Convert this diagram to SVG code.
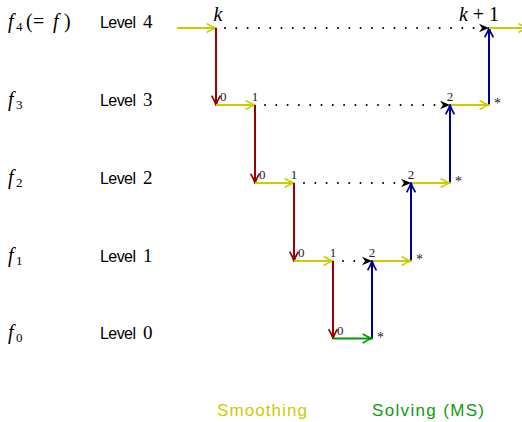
<svg xmlns="http://www.w3.org/2000/svg" width="522" height="422" viewBox="0 0 522 422">
<style>
.math{font-family:"Liberation Serif",serif;font-size:20px;fill:#000}
.it{font-style:italic}
.sub{font-size:13px;font-style:normal}
.lvl{font-family:"Liberation Sans",sans-serif;font-size:16px;fill:#000}
.dig{font-family:"Liberation Serif",serif;font-size:19px;fill:#000}
.idx{font-family:"Liberation Serif",serif;font-size:13px;fill:#222}
.ast{font-family:"Liberation Serif",serif;font-size:14px;fill:#222}
.sm{stroke:#cccc00;stroke-width:2;fill:none}
.re{stroke:#990000;stroke-width:2;fill:none}
.bl{stroke:#000099;stroke-width:2;fill:none}
.gr{stroke:#009900;stroke-width:2;fill:none}
.dt{stroke:#000;stroke-width:2;stroke-linecap:round;stroke-dasharray:0 11.3;fill:none}
.leg{font-family:"Liberation Sans",sans-serif;font-size:17px}
</style>
<defs>
<marker id="aY" viewBox="0 0 10 10" refX="9.5" refY="5" markerWidth="11" markerHeight="11" markerUnits="userSpaceOnUse" orient="auto"><path d="M1,1 Q6,4 9.5,5 Q6,6 1,9" stroke="#cccc00" stroke-width="1.6" fill="none"/></marker>
<marker id="aR" viewBox="0 0 10 10" refX="9.5" refY="5" markerWidth="11" markerHeight="11" markerUnits="userSpaceOnUse" orient="auto"><path d="M1,1 Q6,4 9.5,5 Q6,6 1,9" stroke="#990000" stroke-width="1.6" fill="none"/></marker>
<marker id="aB" viewBox="0 0 10 10" refX="9.5" refY="5" markerWidth="11" markerHeight="11" markerUnits="userSpaceOnUse" orient="auto"><path d="M1,1 Q6,4 9.5,5 Q6,6 1,9" stroke="#000099" stroke-width="1.6" fill="none"/></marker>
<marker id="aG" viewBox="0 0 10 10" refX="9.5" refY="5" markerWidth="11" markerHeight="11" markerUnits="userSpaceOnUse" orient="auto"><path d="M1,1 Q6,4 9.5,5 Q6,6 1,9" stroke="#009900" stroke-width="1.6" fill="none"/></marker>
<marker id="aK" viewBox="0 0 10 10" refX="10" refY="5" markerWidth="10" markerHeight="10" markerUnits="userSpaceOnUse" orient="auto"><path d="M0,0.8 L10,5 L0,9.2 L3,5 z" fill="#000"/></marker>
</defs>

<g id="labels-left">
<g id="f4"><text class="math" y="28"><tspan class="it" x="8">f</tspan><tspan class="sub" x="16" dy="3">4</tspan><tspan x="26" dy="-3">(</tspan><tspan x="33">=</tspan><tspan class="it" x="53">f</tspan><tspan x="64">)</tspan></text></g>
<g id="f3"><text class="math" y="106"><tspan class="it" x="8">f</tspan><tspan class="sub" x="16" dy="3">3</tspan></text></g>
<g id="f2"><text class="math" y="184"><tspan class="it" x="8">f</tspan><tspan class="sub" x="16" dy="3">2</tspan></text></g>
<g id="f1"><text class="math" y="262"><tspan class="it" x="8">f</tspan><tspan class="sub" x="16" dy="3">1</tspan></text></g>
<g id="f0"><text class="math" y="339"><tspan class="it" x="8">f</tspan><tspan class="sub" x="16" dy="3">0</tspan></text></g>
<g id="level4"><text class="lvl" x="100" y="28" textLength="36">Level</text><text class="dig" x="143" y="28">4</text></g>
<g id="level3"><text class="lvl" x="100" y="106" textLength="36">Level</text><text class="dig" x="143" y="106">3</text></g>
<g id="level2"><text class="lvl" x="100" y="184" textLength="36">Level</text><text class="dig" x="143" y="184">2</text></g>
<g id="level1"><text class="lvl" x="100" y="262" textLength="36">Level</text><text class="dig" x="143" y="262">1</text></g>
<g id="level0"><text class="lvl" x="100" y="339" textLength="36">Level</text><text class="dig" x="143" y="339">0</text></g>
</g>

<g id="connectors">
<!-- level 4 -->
<line class="sm" x1="177" y1="28" x2="216" y2="28" marker-end="url(#aY)"/>
<line class="re" x1="216" y1="28" x2="216" y2="105" marker-end="url(#aR)"/>
<line class="dt" x1="225" y1="28" x2="479" y2="28"/>
<line x1="479" y1="28" x2="489" y2="28" stroke="none" marker-end="url(#aK)"/>
<line class="bl" x1="489" y1="105" x2="489" y2="28" marker-end="url(#aB)"/>
<line class="sm" x1="489" y1="28" x2="528" y2="28" marker-end="url(#aY)"/>
<!-- level 3 -->
<line class="sm" x1="216" y1="105" x2="255" y2="105" marker-end="url(#aY)"/>
<line class="re" x1="255" y1="105" x2="255" y2="183" marker-end="url(#aR)"/>
<line class="dt" x1="265" y1="105" x2="440" y2="105"/>
<line x1="440" y1="105" x2="450" y2="105" stroke="none" marker-end="url(#aK)"/>
<line class="sm" x1="450" y1="105" x2="489" y2="105" marker-end="url(#aY)"/>
<line class="bl" x1="450" y1="183" x2="450" y2="105" marker-end="url(#aB)"/>
<!-- level 2 -->
<line class="sm" x1="255" y1="183" x2="294" y2="183" marker-end="url(#aY)"/>
<line class="re" x1="294" y1="183" x2="294" y2="261" marker-end="url(#aR)"/>
<line class="dt" x1="304" y1="183" x2="401" y2="183"/>
<line x1="401" y1="183" x2="411" y2="183" stroke="none" marker-end="url(#aK)"/>
<line class="sm" x1="411" y1="183" x2="450" y2="183" marker-end="url(#aY)"/>
<line class="bl" x1="411" y1="261" x2="411" y2="183" marker-end="url(#aB)"/>
<!-- level 1 -->
<line class="sm" x1="294" y1="261" x2="333" y2="261" marker-end="url(#aY)"/>
<line class="re" x1="333" y1="261" x2="333" y2="338.5" marker-end="url(#aR)"/>
<line class="dt" x1="343" y1="261" x2="356" y2="261"/>
<line x1="362" y1="261" x2="372" y2="261" stroke="none" marker-end="url(#aK)"/>
<line class="sm" x1="372" y1="261" x2="411" y2="261" marker-end="url(#aY)"/>
<line class="bl" x1="372" y1="338.5" x2="372" y2="261" marker-end="url(#aB)"/>
<!-- level 0 -->
<line class="gr" x1="333" y1="338.5" x2="372" y2="338.5" marker-end="url(#aG)"/>
</g>

<g id="node-k"><text class="math it" x="218" y="21" text-anchor="middle" font-size="18">k</text></g>
<g id="node-k1"><text class="math" x="479" y="21" text-anchor="middle" font-size="18"><tspan class="it">k</tspan> + 1</text></g>
<g id="node-l3"><text class="idx" x="220" y="101">0</text><text class="idx" x="255" y="101" text-anchor="middle">1</text><text class="idx" x="450" y="101" text-anchor="middle">2</text><text class="ast" x="494" y="108">*</text></g>
<g id="node-l2"><text class="idx" x="259" y="179">0</text><text class="idx" x="294" y="179" text-anchor="middle">1</text><text class="idx" x="411" y="179" text-anchor="middle">2</text><text class="ast" x="455" y="186">*</text></g>
<g id="node-l1"><text class="idx" x="298" y="257">0</text><text class="idx" x="333" y="257" text-anchor="middle">1</text><text class="idx" x="372" y="257" text-anchor="middle">2</text><text class="ast" x="416" y="264">*</text></g>
<g id="node-l0"><text class="idx" x="337" y="335">0</text><text class="ast" x="377" y="342">*</text></g>

<g id="legend">
<text class="leg" x="217" y="416" fill="#cccc00" textLength="90">Smoothing</text>
<text class="leg" x="372" y="416" fill="#119911" textLength="112">Solving (MS)</text>
</g>
</svg>
